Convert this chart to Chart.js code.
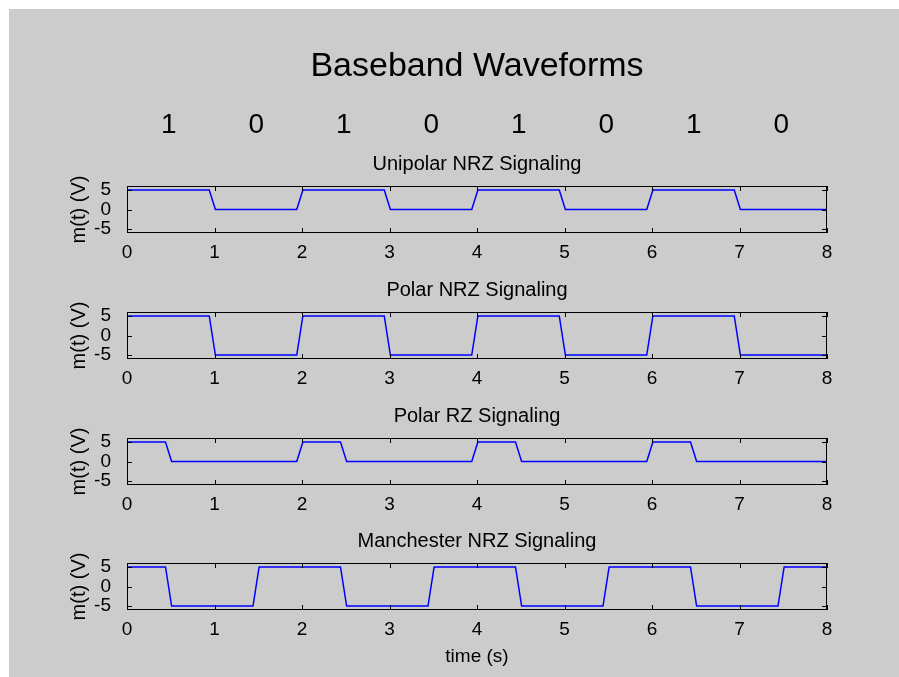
<!DOCTYPE html>
<html lang="en">
<head>
  <meta charset="UTF-8">
  <title>Baseband Waveforms</title>
  <script src="https://cdn.jsdelivr.net/npm/chart.js"></script>
  <style>
    body {
      margin: 0;
      background-color: white;
    }
    #fig {
      position: absolute;
      left: 9px;
      top: 9px;
      width: 890px;
      height: 668px;
      background-color: #cccccc;
    }
    canvas {
      position: absolute;
      left: 0;
    }
  </style>
</head>
<body>
  <div id="fig"></div>

  <script>
    const bits = ['1', '0', '1', '0', '1', '0', '1', '0'];
    const xTicks = [0, 1, 2, 3, 4, 5, 6, 7, 8];
    const yTicks = [-5, 0, 5];

    // NRZ waveforms switch at bit boundaries
    const nrzTime = [0, 0.94, 1.01, 1.94, 2.01, 2.94, 3.01, 3.94, 4.01, 4.94, 5.01, 5.94, 6.01, 6.94, 7.01, 8];
    const unipolarNrz = [5, 5, 0, 0, 5, 5, 0, 0, 5, 5, 0, 0, 5, 5, 0, 0];
    const polarNrz = [5, 5, -5, -5, 5, 5, -5, -5, 5, 5, -5, -5, 5, 5, -5, -5];

    // RZ returns to zero halfway through each "1"
    const rzTime = [0, 0.44, 0.51, 1.94, 2.01, 2.44, 2.51, 3.94, 4.01, 4.44, 4.51, 5.94, 6.01, 6.44, 6.51, 8];
    const polarRz = [5, 5, 0, 0, 5, 5, 0, 0, 5, 5, 0, 0, 5, 5, 0, 0];

    const manTime = [0, 0.44, 0.51, 1.44, 1.51, 2.44, 2.51, 3.44, 3.51, 4.44, 4.51, 5.44, 5.51, 6.44, 6.51, 7.44, 7.51, 8];
    const manchester = [5, 5, -5, -5, 5, 5, -5, -5, 5, 5, -5, -5, 5, 5, -5, -5, 5, 5];

    const panelTitles = ['Unipolar NRZ Signaling', 'Polar NRZ Signaling', 'Polar RZ Signaling', 'Manchester NRZ Signaling'];
    const panelTimes = [nrzTime, nrzTime, rzTime, manTime];
    const panelValues = [unipolarNrz, polarNrz, polarRz, manchester];

    const FONT = '"Liberation Sans", Arial, sans-serif';
    const plotTop = [186, 312, 438, 563];
    const plotH = 47;

    // box, inward tick marks and the text above each axes
    const matlabAxes = {
      id: 'matlabAxes',
      afterDraw(chart, args, opts) {
        const { ctx, chartArea: a, scales: { x, y } } = chart;
        ctx.save();
        ctx.strokeStyle = '#000';
        ctx.lineWidth = 1;
        ctx.strokeRect(a.left + 0.5, a.top + 0.5, a.width - 1, a.height - 1);

        ctx.beginPath();
        xTicks.forEach(v => {
          const px = Math.round(x.getPixelForValue(v)) + 0.5;
          ctx.moveTo(px, a.bottom); ctx.lineTo(px, a.bottom - 5);
          ctx.moveTo(px, a.top); ctx.lineTo(px, a.top + 5);
        });
        yTicks.forEach(v => {
          const py = Math.round(y.getPixelForValue(v)) + 0.5;
          ctx.moveTo(a.left, py); ctx.lineTo(a.left + 5, py);
          ctx.moveTo(a.right, py); ctx.lineTo(a.right - 5, py);
        });
        ctx.stroke();

        const cx = (a.left + a.right) / 2;
        ctx.fillStyle = '#000';
        ctx.textAlign = 'center';
        ctx.textBaseline = 'alphabetic';
        ctx.font = '20px ' + FONT;
        ctx.fillText(opts.title, cx, a.top - 16);

        if (opts.heading) {
          ctx.font = '34px ' + FONT;
          ctx.fillText(opts.heading, cx, a.top - 110);
          ctx.font = '28px ' + FONT;
          bits.forEach((b, i) => {
            ctx.fillText(b, x.getPixelForValue(i + 0.5) - 2, a.top - 53);
          });
        }
        ctx.restore();
      }
    };

    panelTitles.forEach((title, i) => {
      const padTop = i === 0 ? plotTop[0] : 40;
      const axisH = i === 3 ? 58 : 32;

      const canvas = document.createElement('canvas');
      canvas.width = 899;
      canvas.height = padTop + plotH + axisH;
      canvas.style.top = (plotTop[i] - padTop) + 'px';
      document.body.appendChild(canvas);

      const points = panelTimes[i].map((t, k) => ({ x: t, y: panelValues[i][k] }));

      new Chart(canvas, {
        type: 'line',
        data: {
          datasets: [{
            data: points,
            borderColor: '#0000ff',
            borderWidth: 1.5,
            pointRadius: 0,
            tension: 0
          }]
        },
        options: {
          responsive: false,
          animation: false,
          layout: { padding: { left: 67, right: 72, top: padTop, bottom: 0 } },
          plugins: {
            legend: { display: false },
            tooltip: { enabled: false },
            matlabAxes: { title: title, heading: i === 0 ? 'Baseband Waveforms' : null }
          },
          scales: {
            x: {
              type: 'linear',
              min: 0,
              max: 8,
              afterBuildTicks: s => { s.ticks = xTicks.map(v => ({ value: v })); },
              afterFit: s => { s.height = axisH; },
              grid: { display: false },
              border: { display: false },
              ticks: { color: '#000', font: { family: FONT, size: 19 }, padding: 0, maxRotation: 0, autoSkip: false },
              title: {
                display: i === 3,
                text: 'time (s)',
                color: '#000',
                font: { family: FONT, size: 19 },
                padding: 0
              }
            },
            y: {
              type: 'linear',
              min: -6,
              max: 6,
              afterBuildTicks: s => { s.ticks = yTicks.map(v => ({ value: v })); },
              afterFit: s => { s.width = 60; },
              grid: { display: false },
              border: { display: false },
              ticks: { color: '#000', font: { family: FONT, size: 19, lineHeight: 1 }, padding: 8, autoSkip: false },
              title: {
                display: true,
                text: 'm(t) (V)',
                color: '#000',
                font: { family: FONT, size: 20 },
                padding: 0
              }
            }
          }
        },
        plugins: [matlabAxes]
      });
    });
  </script>
</body>
</html>
